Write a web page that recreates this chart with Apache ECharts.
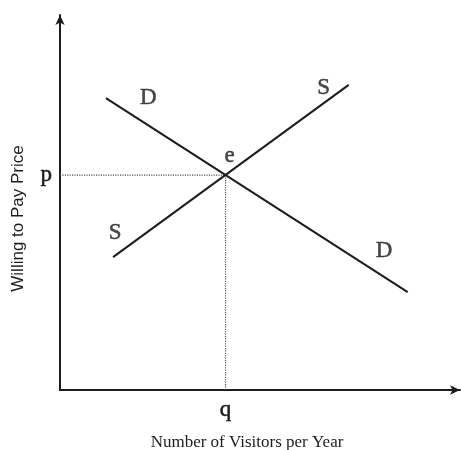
<!DOCTYPE html>
<html>
<head>
<meta charset="utf-8">
<script src="https://cdn.jsdelivr.net/npm/echarts@6/dist/echarts.min.js"></script>
<style>
  html, body { margin: 0; padding: 0; background: #fff; }
  #chart { width: 461px; height: 450px; }
</style>
</head>
<body>
<div id="chart"></div>
<script>
// curves in arbitrary units
let demand = [[1.16, 7.93], [8.78, 2.66]];
let supply = [[1.34, 3.61], [7.29, 8.29]];
// equilibrium
let q = 4.18;
let p = 5.84;
let guide = [[0, p], [q, p], [q, 0]];
// curve letters [x, y, text]
let letters = [
  [2.23, 7.93, 'D'],
  [6.66, 8.21, 'S'],
  [4.28, 6.35, 'e'],
  [8.18, 3.78, 'D'],
  [1.39, 4.27, 'S']
];
let xTitle = 'Number of Visitors per Year';
let yTitle = 'Willing to Pay Price';

let serif = '"Liberation Serif", "DejaVu Serif", serif';
let sans = '"Liberation Sans", Arial, sans-serif';
let ink = '#1c1c1c';

let myChart = echarts.init(document.getElementById('chart'));
myChart.setOption({
  animation: false,
  grid: { left: 60, right: 1, top: 15, bottom: 60, outerBoundsMode: 'none', containLabel: false },
  xAxis: {
    type: 'value',
    min: 0,
    max: 10.1,
    name: xTitle,
    nameLocation: 'middle',
    nameGap: 44,
    nameTextStyle: { fontFamily: serif, fontSize: 17, color: ink, padding: [0, 26, 0, 0] },
    splitLine: { show: false },
    axisTick: { show: false },
    axisLine: {
      symbol: ['none', 'arrow'],
      symbolSize: [7, 10],
      lineStyle: { color: ink, width: 2 }
    },
    axisLabel: {
      customValues: [q],
      formatter: function () { return 'q'; },
      fontFamily: serif,
      fontSize: 23,
      color: ink,
      textBorderColor: ink,
      textBorderWidth: 0.5,
      margin: 8
    }
  },
  yAxis: {
    type: 'value',
    min: 0,
    max: 10.19,
    name: yTitle,
    nameLocation: 'middle',
    nameGap: 33,
    nameTextStyle: { fontFamily: sans, fontSize: 17, color: ink, padding: [0, 32, 0, 0] },
    splitLine: { show: false },
    axisTick: { show: false },
    axisLine: {
      symbol: ['none', 'arrow'],
      symbolSize: [7, 10],
      lineStyle: { color: ink, width: 2 }
    },
    axisLabel: {
      customValues: [p],
      formatter: function () { return 'p'; },
      fontFamily: serif,
      fontSize: 23,
      color: ink,
      textBorderColor: ink,
      textBorderWidth: 0.5,
      margin: 8,
      padding: [6, 0, 0, 0]
    }
  },
  series: [
    {
      name: 'guide',
      type: 'line',
      showSymbol: false,
      silent: true,
      data: guide,
      lineStyle: { color: '#555', width: 1.2, type: 'dotted' }
    },
    {
      name: 'D',
      type: 'line',
      showSymbol: false,
      data: demand,
      lineStyle: { color: ink, width: 2 }
    },
    {
      name: 'S',
      type: 'line',
      showSymbol: false,
      data: supply,
      lineStyle: { color: ink, width: 2 }
    },
    {
      name: 'letters',
      type: 'scatter',
      symbolSize: 0,
      data: letters,
      label: {
        show: true,
        position: 'inside',
        formatter: function (d) { return d.value[2]; },
        fontFamily: serif,
        fontSize: 23,
        color: ink,
        textBorderColor: ink,
        textBorderWidth: 0.5
      }
    }
  ]
});
</script>
</body>
</html>
